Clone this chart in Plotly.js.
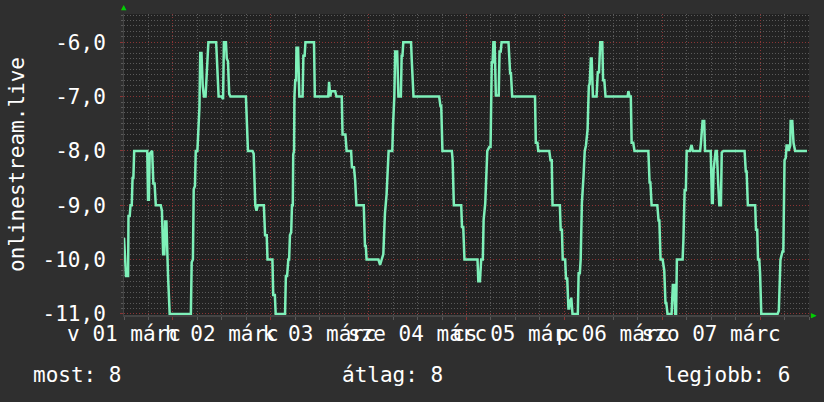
<!DOCTYPE html>
<html>
<head>
<meta charset="utf-8">
<script src="https://cdn.plot.ly/plotly-3.0.1.min.js"></script>
<style>
html,body{margin:0;padding:0;background:#2f2f2f;}
#chart{width:824px;height:402px;}
</style>
</head>
<body>
<div id="chart"></div>
<script>
// Hours since 2026-03-01 12:00 (7-day window)
const hours = [0.0,0.2,0.5,1.0,1.1,1.4,1.6,1.9,2.1,2.3,2.5,5.7,5.9,6.1,6.3,6.9,7.2,7.5,7.8,9.0,9.3,9.6,9.9,10.1,10.4,10.8,11.2,
16.4,16.6,16.9,17.1,17.4,17.6,18.0,18.3,18.5,18.7,19.0,19.3,19.6,20.0,20.3,20.5,20.7,22.6,22.9,23.2,24.0,24.3,24.5,25.0,25.2,25.5,25.8,26.1,
29.9,30.2,30.4,31.5,31.8,32.2,32.5,32.8,34.3,34.6,35.0,35.2,36.4,36.6,37.0,37.2,39.5,39.7,40.0,40.3,40.5,40.7,41.0,41.2,41.4,41.5,41.7,41.8,
42.0,42.2,42.3,42.7,43.0,43.8,44.0,44.3,44.5,46.6,46.8,50.1,50.3,50.6,50.8,51.8,52.1,53.4,53.6,54.3,54.6,55.7,55.9,56.4,56.7,57.0,58.8,59.1,
59.3,59.5,62.4,62.8,63.2,63.6,64.0,64.4,64.9,65.8,66.0,66.3,66.5,67.0,67.3,67.9,68.1,68.3,68.5,70.4,70.6,71.0,77.3,77.6,77.8,78.1,80.4,80.6,
80.9,82.7,82.9,83.2,83.5,86.7,86.9,87.3,87.6,88.0,88.2,88.6,89.1,89.6,89.9,90.2,90.4,90.6,90.9,91.2,91.9,92.1,92.4,92.6,94.3,94.7,94.9,95.2,
100.8,101.0,101.4,101.6,104.3,104.6,104.9,105.1,106.9,107.1,107.4,107.6,108.2,108.4,108.7,109.0,109.2,109.3,109.6,109.7,110.0,111.3,111.5,
111.8,112.0,112.3,112.7,113.0,113.3,113.7,114.0,114.2,114.5,114.7,115.0,115.9,116.2,116.5,116.8,117.3,117.5,117.8,118.1,123.5,123.7,124.0,
124.3,124.5,124.9,125.2,128.6,128.9,129.1,129.4,130.8,131.1,131.3,131.6,132.1,132.4,132.5,132.8,133.0,133.3,134.3,134.6,134.9,135.2,135.4,
135.6,137.0,137.2,137.5,137.8,138.0,138.8,139.2,139.5,141.3,141.5,141.9,142.3,142.5,143.9,144.2,144.4,144.6,145.1,145.4,145.7,146.0,146.4,
146.6,147.0,152.2,152.5,152.7,153.0,154.8,155.0,155.3,155.5,155.8,156.0,156.3,160.3,160.6,161.0,161.5,161.7,162.0,162.3,162.5,162.8,163.0,
163.4,163.5,163.9,164.2,164.6,167.5];
const values = [-9.6,-10.0,-10.3,-10.3,-9.2,-9.2,-9.0,-9.0,-8.5,-8.5,-8.0,-8.0,-8.9,-8.9,-8.05,-8.0,-8.6,-8.6,-9.0,-9.0,-9.1,-9.9,-9.9,-9.3,-9.3,-10.3,-11.0,
-11.0,-10.05,-10.0,-8.7,-8.65,-8.0,-8.0,-7.25,-7.2,-6.2,-6.2,-6.8,-7.0,-7.0,-6.45,-6.4,-6.0,-6.0,-6.4,-7.0,-7.0,-7.05,-6.0,-6.0,-6.3,-6.35,-6.95,-7.0,
-7.0,-7.7,-8.0,-8.0,-8.05,-9.0,-9.1,-9.0,-9.0,-9.55,-9.55,-10.0,-10.0,-10.65,-10.65,-11.0,-11.0,-10.3,-10.3,-10.0,-10.0,-9.55,-9.5,-9.0,-9.0,-8.07,-8.0,-7.0,
-6.7,-6.7,-6.1,-6.1,-7.0,-7.0,-6.25,-6.25,-6.0,-6.0,-7.0,-7.0,-6.73,-7.0,-6.9,-6.9,-7.0,-7.0,-7.7,-7.7,-8.0,-8.0,-8.3,-8.3,-8.55,-9.0,-9.0,-9.75,
-9.75,-10.0,-10.0,-10.1,-10.0,-9.9,-9.15,-8.8,-8.0,-8.0,-7.5,-7.0,-6.17,-6.17,-7.0,-7.0,-6.25,-6.25,-6.0,-6.0,-6.37,-7.0,-7.0,-7.17,-7.17,-8.0,-8.0,-8.17,
-9.0,-9.0,-9.4,-9.4,-10.0,-10.0,-10.4,-10.4,-10.0,-10.0,-9.27,-8.96,-8.0,-7.93,-7.93,-6.37,-6.37,-6.0,-6.0,-6.98,-6.98,-6.17,-6.17,-6.0,-6.0,-6.57,-6.57,-7.0,
-7.0,-7.85,-7.85,-8.0,-8.0,-8.17,-8.17,-9.0,-9.0,-9.45,-9.45,-10.0,-10.0,-10.35,-10.35,-10.9,-10.9,-10.73,-10.87,-10.7,-11.0,-11.0,-10.25,
-10.25,-10.0,-8.96,-8.47,-8.0,-7.9,-7.6,-6.8,-6.77,-6.3,-6.3,-7.0,-7.0,-6.55,-6.55,-6.0,-6.0,-6.7,-6.7,-7.0,-7.0,-6.9,-7.0,
-7.0,-7.85,-7.85,-8.0,-8.0,-8.58,-8.58,-9.0,-9.0,-9.28,-9.28,-10.0,-10.0,-10.2,-10.2,-10.8,-10.8,-11.0,-11.0,-10.47,-10.47,-11.0,-11.0,
-10.0,-10.0,-9.63,-8.72,-8.72,-8.0,-8.0,-7.89,-8.0,-8.0,-7.85,-7.45,-7.45,-8.0,-8.0,-8.96,-8.96,-8.35,-8.0,-8.0,-8.55,-9.0,-9.0,
-8.03,-8.0,-8.0,-8.38,-8.38,-9.0,-9.0,-9.45,-9.45,-10.0,-10.0,-10.25,-11.0,-11.0,-10.94,-10.0,-9.85,-9.85,-8.17,-8.13,-7.9,-7.9,-8.0,
-7.9,-7.45,-7.45,-7.85,-8.0,-8.0];

const dayLabelHours = [0, 24, 48, 72, 96, 120, 144];
const dayLabels = ['v 01 márc', 'h 02 márc', 'k 03 márc', 'sze 04 márc', 'cs 05 márc', 'p 06 márc', 'szo 07 márc'];
const midnightHours = [12, 36, 60, 84, 108, 132, 156];
const yTickVals = [-11, -10, -9, -8, -7, -6];
const yTickText = ['-11,0', '-10,0', '-9,0', '-8,0', '-7,0', '-6,0'];
const seriesName = 'onlinestream.live';
const legendItems = ['most: 8', 'átlag: 8', 'legjobb: 6'];

const FONT = 'DejaVu Sans Mono';
const FS = 21;
const TXT = '#ffffff';
const MINOR = '#5a5a5a';
const MAJOR = '#8a3535';

const traces = [
  {x: hours, y: values, type: 'scatter', mode: 'lines', xaxis: 'x', yaxis: 'y',
   line: {color: '#7ef0b9', width: 2.5}, hoverinfo: 'skip', showlegend: false},
  {x: dayLabelHours, y: dayLabelHours.map(() => null), type: 'scatter', mode: 'markers',
   xaxis: 'x2', yaxis: 'y', hoverinfo: 'skip', showlegend: false}
];

const layout = {
  width: 824, height: 402,
  paper_bgcolor: '#2f2f2f', plot_bgcolor: '#222222',
  margin: {l: 124, r: 15, t: 14, b: 87},
  font: {family: FONT, size: FS, color: TXT},
  showlegend: false,
  xaxis: {
    range: [0, 168], tickmode: 'array', tickvals: midnightHours, showticklabels: false,
    showgrid: true, gridcolor: MAJOR, griddash: '1px,2px', gridwidth: 1,
    ticks: 'outside', ticklen: 3, tickcolor: MAJOR,
    minor: {tickmode: 'linear', tick0: 0, dtick: 6, showgrid: true, gridcolor: MINOR, griddash: '1px,2px',
            ticks: 'outside', ticklen: 3, tickcolor: MINOR},
    showline: true, linecolor: '#444444', linewidth: 2, zeroline: false, fixedrange: true
  },
  xaxis2: {
    overlaying: 'x', anchor: 'y', side: 'bottom', range: [0, 168], tickmode: 'array',
    tickvals: dayLabelHours, ticktext: dayLabels, tickangle: 0, showgrid: false, zeroline: false,
    ticks: '', ticklabelstandoff: 4, tickfont: {family: FONT, size: FS, color: TXT}
  },
  yaxis: {
    range: [-11.02, -5.48], tickmode: 'array', tickvals: yTickVals, ticktext: yTickText,
    showgrid: true, gridcolor: MAJOR, griddash: '1px,2px', gridwidth: 1,
    ticks: 'outside', ticklen: 3, tickcolor: MAJOR, ticklabelstandoff: 10,
    minor: {tickmode: 'linear', tick0: -11, dtick: 0.1, showgrid: true, gridcolor: MINOR, griddash: '1px,2px',
            ticks: 'outside', ticklen: 2, tickcolor: MINOR},
    tickfont: {family: FONT, size: FS, color: TXT},
    title: {text: seriesName, font: {family: FONT, size: FS, color: TXT}, standoff: 12},
    showline: true, linecolor: '#444444', linewidth: 1, zeroline: false
  },
  annotations: [
    {text: '▲', xref: 'paper', yref: 'paper', x: 0, y: 1, xanchor: 'center', yanchor: 'bottom',
     showarrow: false, font: {size: 9, color: '#00d000'}},
    {text: '▶', xref: 'paper', yref: 'paper', x: 1, y: 0, xanchor: 'left', yanchor: 'middle',
     showarrow: false, font: {size: 9, color: '#00d000'}},
    {text: legendItems[0], xref: 'paper', yref: 'paper', x: -0.136, y: -0.2, xanchor: 'left', yanchor: 'middle',
     showarrow: false, font: {family: FONT, size: FS, color: TXT}},
    {text: legendItems[1], xref: 'paper', yref: 'paper', x: 0.316, y: -0.2, xanchor: 'left', yanchor: 'middle',
     showarrow: false, font: {family: FONT, size: FS, color: TXT}},
    {text: legendItems[2], xref: 'paper', yref: 'paper', x: 0.785, y: -0.2, xanchor: 'left', yanchor: 'middle',
     showarrow: false, font: {family: FONT, size: FS, color: TXT}}
  ]
};

Plotly.newPlot('chart', traces, layout, {staticPlot: true, displayModeBar: false});
</script>
</body>
</html>
